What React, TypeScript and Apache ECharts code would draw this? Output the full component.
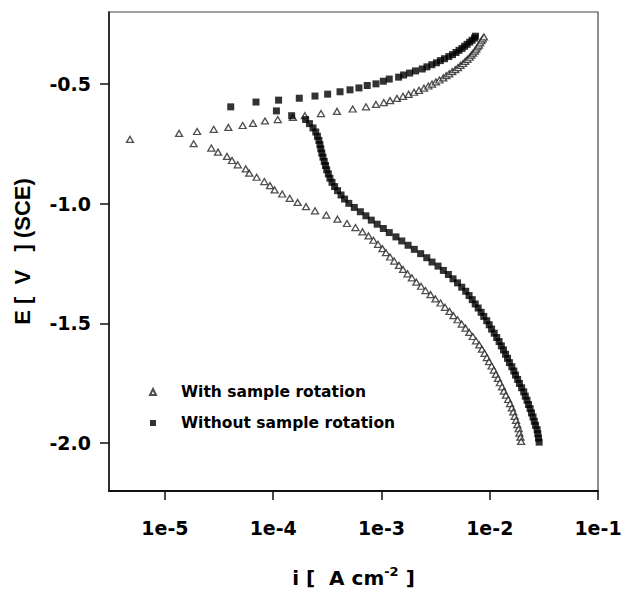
import React, { useEffect, useRef } from "react";
import * as echarts from "echarts";

// Current density range (A cm^-2) and potential range (V vs SCE)
const currentMin = 3.04e-6;
const currentMax = 1e-1;
const potentialMin = -2.2;
const potentialMax = -0.2;

// Tick positions: decades of current, potentials
const xTickExponents = [-5, -4, -3, -2, -1];
const yTickValues = [-2.0, -1.5, -1.0, -0.5];

const seriesNames = ["With sample rotation", "Without sample rotation"];

// [current density (A cm^-2), potential (V)]
const withRotationAnodic: [number, number][] = [
  [4.75e-6, -0.732], [1.35e-5, -0.707], [1.98e-5, -0.699], [2.82e-5, -0.690],
  [3.85e-5, -0.682], [5.22e-5, -0.674], [6.50e-5, -0.665], [8.39e-5, -0.655],
  [1.10e-4, -0.649], [1.52e-4, -0.640], [1.96e-4, -0.633], [2.76e-4, -0.624],
  [3.88e-4, -0.615], [5.42e-4, -0.605], [7.19e-4, -0.596], [8.89e-4, -0.586],
  [1.05e-3, -0.578], [1.20e-3, -0.570], [1.39e-3, -0.561], [1.58e-3, -0.552],
  [1.78e-3, -0.544], [2.00e-3, -0.535], [2.22e-3, -0.527], [2.47e-3, -0.518],
  [2.71e-3, -0.509], [2.93e-3, -0.501], [3.18e-3, -0.492], [3.43e-3, -0.484],
  [3.72e-3, -0.475], [3.97e-3, -0.466], [4.22e-3, -0.458], [4.50e-3, -0.449],
  [4.80e-3, -0.441], [5.08e-3, -0.432], [5.37e-3, -0.423], [5.66e-3, -0.415],
  [5.93e-3, -0.406], [6.22e-3, -0.398], [6.52e-3, -0.389], [6.76e-3, -0.380],
  [7.02e-3, -0.372], [7.29e-3, -0.363], [7.50e-3, -0.355], [7.71e-3, -0.346],
  [7.94e-3, -0.338], [8.15e-3, -0.329], [8.38e-3, -0.320], [8.59e-3, -0.312],
  [8.85e-3, -0.304],
];

const withRotationCathodic: [number, number][] = [
  [1.84e-5, -0.750], [2.68e-5, -0.768], [3.09e-5, -0.785], [3.74e-5, -0.803],
  [4.16e-5, -0.820], [4.70e-5, -0.838], [5.57e-5, -0.855], [6.01e-5, -0.873],
  [7.03e-5, -0.890], [8.27e-5, -0.908], [9.33e-5, -0.925], [1.03e-4, -0.943],
  [1.21e-4, -0.960], [1.42e-4, -0.978], [1.68e-4, -0.995], [2.01e-4, -1.013],
  [2.43e-4, -1.030], [3.09e-4, -1.048], [3.92e-4, -1.065], [4.80e-4, -1.083],
  [5.75e-4, -1.100], [6.67e-4, -1.118], [7.59e-4, -1.135], [8.43e-4, -1.153],
  [9.29e-4, -1.170], [1.02e-3, -1.188], [1.10e-3, -1.205], [1.20e-3, -1.223],
  [1.31e-3, -1.240], [1.45e-3, -1.258], [1.58e-3, -1.275], [1.74e-3, -1.293],
  [1.91e-3, -1.310], [2.10e-3, -1.328], [2.32e-3, -1.345], [2.55e-3, -1.363],
  [2.84e-3, -1.380], [3.15e-3, -1.398], [3.51e-3, -1.415], [3.86e-3, -1.433],
  [4.25e-3, -1.450], [4.62e-3, -1.468], [5.04e-3, -1.485], [5.51e-3, -1.503],
  [5.97e-3, -1.520], [6.47e-3, -1.538], [6.97e-3, -1.555], [7.46e-3, -1.573],
  [8.00e-3, -1.590], [8.47e-3, -1.608], [8.95e-3, -1.625], [9.40e-3, -1.643],
  [9.84e-3, -1.660], [1.04e-2, -1.678], [1.09e-2, -1.695], [1.14e-2, -1.713],
  [1.19e-2, -1.730], [1.24e-2, -1.748], [1.30e-2, -1.765], [1.35e-2, -1.783],
  [1.41e-2, -1.800], [1.48e-2, -1.818], [1.54e-2, -1.835], [1.60e-2, -1.853],
  [1.65e-2, -1.870], [1.70e-2, -1.888], [1.75e-2, -1.905], [1.80e-2, -1.923],
  [1.85e-2, -1.940], [1.88e-2, -1.958], [1.92e-2, -1.975], [1.95e-2, -1.993],
];

const withoutRotationAnodic: [number, number][] = [
  [4.05e-5, -0.596], [6.93e-5, -0.576], [1.12e-4, -0.568], [1.74e-4, -0.560],
  [2.43e-4, -0.551], [3.18e-4, -0.543], [4.14e-4, -0.533], [5.12e-4, -0.525],
  [6.19e-4, -0.517], [7.39e-4, -0.507], [8.89e-4, -0.500], [1.04e-3, -0.489],
  [1.18e-3, -0.480], [1.44e-3, -0.472], [1.60e-3, -0.463], [1.82e-3, -0.455],
  [2.06e-3, -0.446], [2.38e-3, -0.438], [2.63e-3, -0.429], [2.92e-3, -0.420],
  [3.22e-3, -0.412], [3.50e-3, -0.403], [3.82e-3, -0.395], [4.19e-3, -0.386],
  [4.53e-3, -0.378], [4.88e-3, -0.369], [5.20e-3, -0.360], [5.55e-3, -0.352],
  [5.86e-3, -0.343], [6.18e-3, -0.335], [6.53e-3, -0.326], [6.87e-3, -0.318],
  [7.23e-3, -0.309], [7.38e-3, -0.301],
];

const withoutRotationCathodic: [number, number][] = [
  [1.07e-4, -0.613], [1.48e-4, -0.633], [1.99e-4, -0.649], [2.16e-4, -0.666],
  [2.33e-4, -0.684], [2.47e-4, -0.701], [2.56e-4, -0.719], [2.64e-4, -0.736],
  [2.70e-4, -0.754], [2.75e-4, -0.771], [2.81e-4, -0.789], [2.88e-4, -0.806],
  [2.96e-4, -0.824], [3.04e-4, -0.841], [3.12e-4, -0.859], [3.23e-4, -0.876],
  [3.34e-4, -0.894], [3.49e-4, -0.911], [3.69e-4, -0.929], [3.93e-4, -0.946],
  [4.23e-4, -0.964], [4.56e-4, -0.981], [4.99e-4, -0.999], [5.61e-4, -1.016],
  [6.38e-4, -1.034], [7.18e-4, -1.051], [8.05e-4, -1.069], [9.12e-4, -1.086],
  [1.04e-3, -1.104], [1.18e-3, -1.121], [1.36e-3, -1.139], [1.54e-3, -1.156],
  [1.76e-3, -1.174], [2.01e-3, -1.191], [2.30e-3, -1.209], [2.62e-3, -1.226],
  [2.93e-3, -1.244], [3.33e-3, -1.261], [3.73e-3, -1.279], [4.15e-3, -1.296],
  [4.58e-3, -1.314], [5.04e-3, -1.331], [5.51e-3, -1.349], [6.00e-3, -1.366],
  [6.44e-3, -1.384], [6.89e-3, -1.401], [7.34e-3, -1.419], [7.82e-3, -1.436],
  [8.32e-3, -1.454], [8.81e-3, -1.471], [9.38e-3, -1.489], [9.89e-3, -1.506],
  [1.04e-2, -1.524], [1.10e-2, -1.541], [1.16e-2, -1.559], [1.22e-2, -1.576],
  [1.28e-2, -1.594], [1.34e-2, -1.611], [1.40e-2, -1.629], [1.46e-2, -1.646],
  [1.52e-2, -1.664], [1.60e-2, -1.681], [1.67e-2, -1.699], [1.73e-2, -1.716],
  [1.81e-2, -1.734], [1.88e-2, -1.751], [1.97e-2, -1.769], [2.06e-2, -1.786],
  [2.13e-2, -1.804], [2.21e-2, -1.821], [2.28e-2, -1.839], [2.36e-2, -1.856],
  [2.43e-2, -1.874], [2.51e-2, -1.891], [2.58e-2, -1.909], [2.65e-2, -1.926],
  [2.74e-2, -1.944], [2.78e-2, -1.961], [2.82e-2, -1.979], [2.86e-2, -1.996],
];

const FONT = "'DejaVu Sans', 'Liberation Sans', Arial, sans-serif";
const TEXT = "#000";

const toLog = (pts: [number, number][]) => pts.map(([i, e]) => [Math.log10(i), e]);

export default function App() {
  const ref = useRef<HTMLDivElement>(null);

  useEffect(() => {
    document.body.style.margin = "0";
    if (!ref.current) return;
    const chart = echarts.init(ref.current, null, { renderer: "svg" });

    const option: any = {
      animation: false,
      backgroundColor: "#fff",
      grid: {
        left: 109,
        top: 12,
        right: 23,
        bottom: 99,
        show: true,
        borderColor: "#444",
        borderWidth: 1.2,
        backgroundColor: "transparent",
        containLabel: false,
        outerBoundsMode: "none",
      },
      legend: {
        orient: "vertical",
        left: 149,
        top: 383,
        padding: 0,
        itemWidth: 6,
        itemHeight: 6,
        itemGap: 13,
        symbolKeepAspect: true,
        data: seriesNames,
        textStyle: {
          fontFamily: FONT,
          fontWeight: "bold",
          fontSize: 15.5,
          lineHeight: 18,
          color: TEXT,
          padding: [0, 0, 0, 20],
        },
      },
      xAxis: {
        type: "value",
        min: Math.log10(currentMin),
        max: Math.log10(currentMax),
        name: "{t|i [  A cm}{s|-2}{t| ]}",
        nameLocation: "middle",
        nameGap: 74,
        nameMoveOverlap: false,
        nameTextStyle: {
          rich: {
            t: { fontFamily: FONT, fontWeight: "bold", fontSize: 20, color: TEXT, lineHeight: 26 },
            s: { fontFamily: FONT, fontWeight: "bold", fontSize: 13, color: TEXT, lineHeight: 13, verticalAlign: "top" },
          },
        },
        axisLine: { show: true, lineStyle: { color: "#111", width: 2 } },
        axisTick: {
          show: true,
          inside: false,
          length: 9,
          customValues: xTickExponents,
          lineStyle: { color: "#111", width: 1.5 },
        },
        axisLabel: {
          customValues: xTickExponents,
          formatter: (v: number) => "1e" + Math.round(v),
          margin: 27,
          fontFamily: FONT,
          fontWeight: "bold",
          fontSize: 19,
          color: TEXT,
          hideOverlap: false,
        },
        splitLine: { show: false },
      },
      yAxis: {
        type: "value",
        min: potentialMin,
        max: potentialMax,
        name: "E [  V   ] (SCE)",
        nameLocation: "middle",
        nameRotate: 90,
        nameGap: 76,
        nameMoveOverlap: false,
        nameTextStyle: {
          fontFamily: "'Liberation Sans', Arial, sans-serif",
          fontWeight: "bold",
          fontSize: 22,
          color: TEXT,
        },
        axisLine: { show: true, lineStyle: { color: "#111", width: 1.5 } },
        axisTick: {
          show: true,
          inside: false,
          length: 9,
          customValues: yTickValues,
          lineStyle: { color: "#111", width: 1.5 },
        },
        axisLabel: {
          customValues: yTickValues,
          formatter: (v: number) => v.toFixed(1),
          margin: 18,
          fontFamily: FONT,
          fontWeight: "bold",
          fontSize: 19,
          color: TEXT,
          hideOverlap: false,
        },
        splitLine: { show: false },
      },
      series: [
        {
          name: seriesNames[0],
          type: "scatter",
          symbol: "triangle",
          symbolSize: [7, 6],
          symbolKeepAspect: true,
          itemStyle: { color: "#fff", borderColor: "#222", borderWidth: 1.3 },
          data: [...toLog(withRotationCathodic), ...toLog(withRotationAnodic)],
          z: 2,
        },
        {
          name: seriesNames[1],
          type: "scatter",
          symbol: "rect",
          symbolSize: 7,
          symbolKeepAspect: true,
          itemStyle: { color: "#000" },
          data: [...toLog(withoutRotationCathodic), ...toLog(withoutRotationAnodic)],
          z: 3,
        },
      ],
    };

    chart.setOption(option);
    return () => chart.dispose();
  }, []);

  return (
    <div
      ref={ref}
      style={{ position: "absolute", left: 0, top: 0, width: 621, height: 590, background: "#fff" }}
    />
  );
}
